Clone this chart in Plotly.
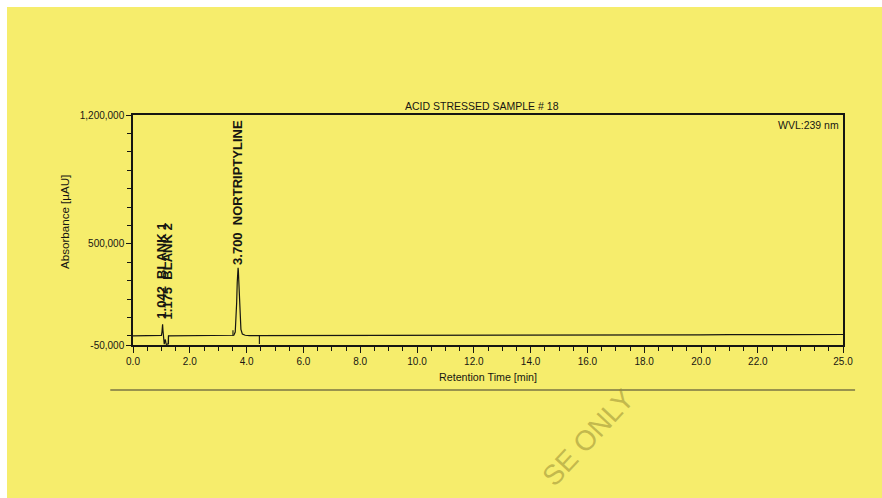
import plotly.graph_objects as go

# Chromatogram trace: retention time (min) and absorbance (µAU)
time_min = [0.0, 0.50, 0.95, 1.00, 1.02, 1.03, 1.042, 1.055, 1.07, 1.09,
            1.10, 1.12, 1.14, 1.16, 1.175, 1.20, 1.24, 1.25, 2.00, 3.00,
            3.50, 3.55, 3.60, 3.63, 3.65, 3.67, 3.69, 3.70, 3.71, 3.73,
            3.75, 3.77, 3.80, 3.85, 3.95, 4.10, 4.50, 6.00, 8.00, 10.0,
            12.0, 14.0, 16.0, 18.0, 20.0, 21.0, 21.5, 22.0, 23.0, 25.0]
absorbance = [0, 0, 0, 2000, 20000, 45000, 62000, 30000, 8000, 0,
              -45000, -25000, -20000, -40000, -47000, -45000, -44000, 0, 0, 0,
              0, 3000, 20000, 90000, 180000, 290000, 355000, 370000, 355000, 280000,
              180000, 100000, 35000, 10000, 3000, 1000, 1000, 1500, 2000, 2500,
              3000, 3500, 4000, 4500, 5000, 6000, 5000, 6000, 6500, 7000]

# Peak annotations: retention time, label anchor height, label text, nudge (px)
peak_times = [1.042, 1.175, 3.700]
peak_label_y = [80000, 80000, 372000]
peak_labels = ["1.042  BLANK 1", "1.175  BLANK 2", "3.700  NORTRIPTYLINE"]
peak_label_dx = [-2, 1, 0]

# Integration delimiters: time, lower and upper end
delim_t = [1.25, 3.52, 4.45]
delim_lo = [-44000, 0, -44000]
delim_hi = [0, 30000, 0]

# Axis ticks
x_tickvals = [0, 2, 4, 6, 8, 10, 12, 14, 16, 18, 20, 22, 25]
x_ticktext = ["0.0", "2.0", "4.0", "6.0", "8.0", "10.0", "12.0", "14.0",
              "16.0", "18.0", "20.0", "22.0", "25.0"]
y_tickvals = [-50000, 500000, 1200000]
y_ticktext = ["-50,000", "500,000", "1,200,000"]

PAGE = "#F6ED6C"
INK = "#161612"
FONT = "Liberation Sans, Arial, sans-serif"

fig = go.Figure()

fig.add_trace(go.Scatter(
    x=time_min, y=absorbance, mode="lines",
    line=dict(color=INK, width=1.2), hoverinfo="x+y", showlegend=False,
))

dx, dy = [], []
for t, lo, hi in zip(delim_t, delim_lo, delim_hi):
    dx += [t, t, None]
    dy += [lo, hi, None]
fig.add_trace(go.Scatter(
    x=dx, y=dy, mode="lines", line=dict(color=INK, width=1.1),
    hoverinfo="skip", showlegend=False,
))

for t, yv, txt, nudge in zip(peak_times, peak_label_y, peak_labels, peak_label_dx):
    fig.add_annotation(
        x=t, y=yv, text="<b>" + txt + "</b>", textangle=-90, xshift=nudge,
        showarrow=False, xanchor="center", yanchor="bottom",
        font=dict(family=FONT, size=13, color=INK),
    )

axis_common = dict(
    showline=True, linecolor=INK, linewidth=1.5, mirror=True,
    ticks="outside", tickcolor=INK, showgrid=False, zeroline=False,
    tickfont=dict(family=FONT, size=10, color=INK),
)

fig.update_xaxes(
    range=[0, 25], tickvals=x_tickvals, ticktext=x_ticktext, ticklen=6,
    minor=dict(tick0=0, dtick=0.5, ticks="outside", ticklen=4, tickcolor=INK),
    **axis_common,
)
fig.update_yaxes(
    range=[-50000, 1200000], tickvals=y_tickvals, ticktext=y_ticktext, ticklen=5,
    minor=dict(tick0=0, dtick=100000, ticks="outside", ticklen=4, tickcolor=INK),
    **axis_common,
)

# Titles and instrument header
fig.add_annotation(
    x=0.4915, y=1, xref="paper", yref="paper", yanchor="bottom", yshift=1,
    text="ACID STRESSED SAMPLE # 18", showarrow=False,
    font=dict(family=FONT, size=10.5, color=INK),
)
fig.add_annotation(
    x=0.997, y=1, xref="paper", yref="paper", xanchor="right", yanchor="top",
    yshift=-2, text="WVL:239 nm", showarrow=False,
    font=dict(family=FONT, size=10.5, color=INK),
)
fig.add_annotation(
    x=0.5, y=0, xref="paper", yref="paper", yanchor="top", yshift=-24,
    text="Retention Time [min]", showarrow=False,
    font=dict(family=FONT, size=10.7, color=INK),
)
fig.add_annotation(
    x=0, y=0.5, xref="paper", yref="paper", xanchor="center", xshift=-69,
    yshift=8, text="Absorbance [µAU]", textangle=-90, showarrow=False,
    font=dict(family=FONT, size=11.6, color=INK),
)

# Yellow sheet with a thin white edge at top and left
fig.add_shape(
    type="rect", xref="paper", yref="paper", layer="below",
    x0=(7 - 133) / 710, x1=1.2, y0=-0.8, y1=(345 - 7) / 230,
    line=dict(width=0), fillcolor=PAGE,
)

# Separator rule under the chart
fig.add_shape(
    type="line", xref="paper", yref="paper",
    x0=-0.032, x1=1.017, y0=-0.196, y1=-0.196,
    line=dict(color="#7a7545", width=1.5),
)

# Watermark
fig.add_annotation(
    x=(588 - 133) / 710, y=(345 - 437) / 230, xref="paper", yref="paper",
    xanchor="center", yanchor="middle",
    text="SE ONLY", textangle=-47, showarrow=False,
    font=dict(family=FONT, size=28, color="rgba(150,140,50,0.55)"),
)

fig.update_layout(
    width=882, height=498,
    margin=dict(l=133, r=39, t=115, b=153),
    paper_bgcolor="white", plot_bgcolor="rgba(0,0,0,0)",
    font=dict(family=FONT, color=INK),
)

fig.write_html("out.html")
